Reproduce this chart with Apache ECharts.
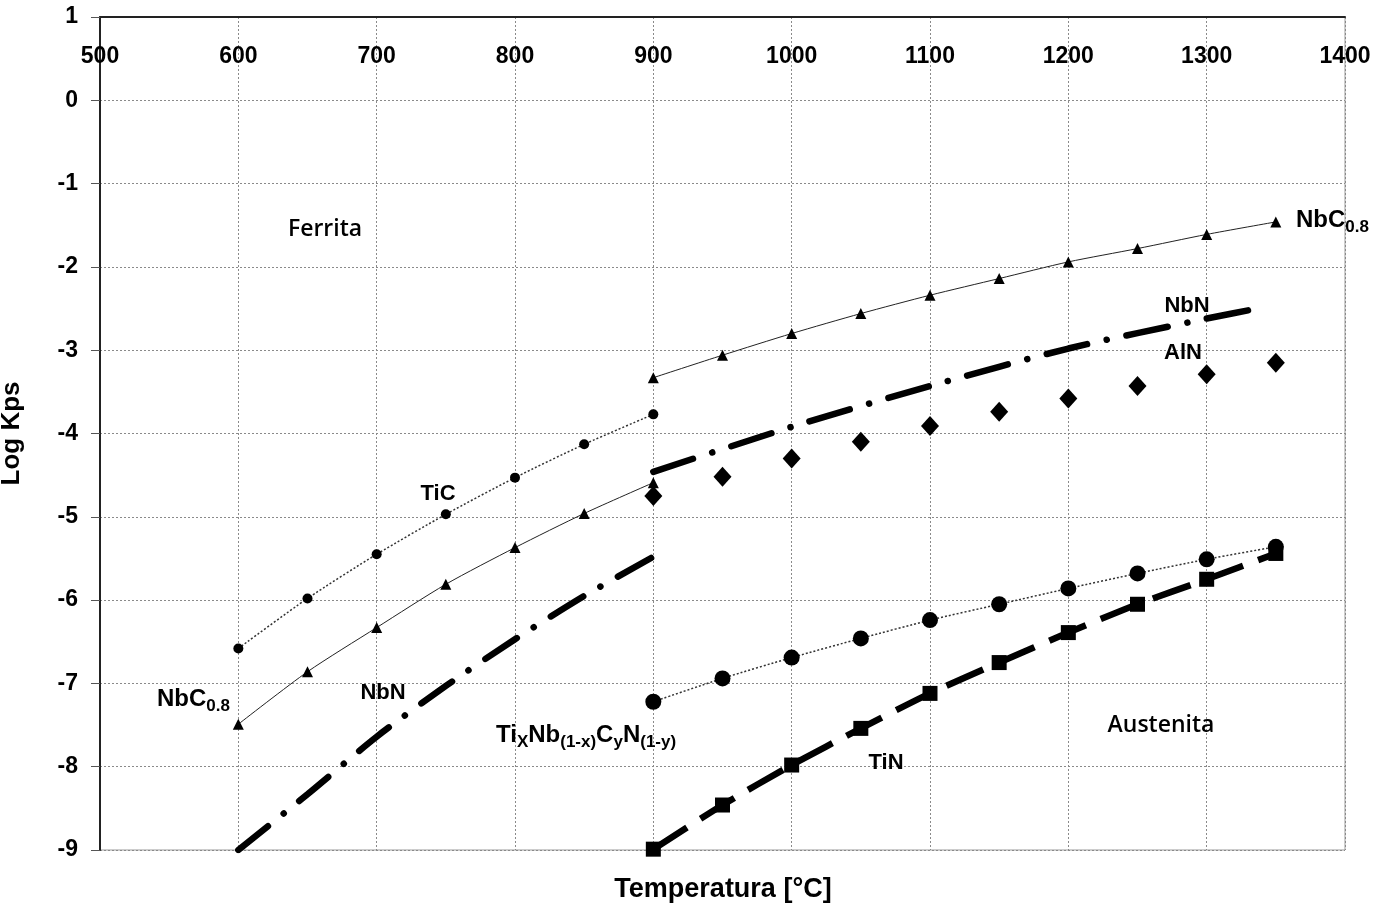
<!DOCTYPE html>
<html>
<head>
<meta charset="utf-8">
<script src="https://cdn.jsdelivr.net/npm/echarts@6/dist/echarts.min.js"></script>
<style>
html,body{margin:0;padding:0;background:#fff;}
#chart{width:1387px;height:910px;}
</style>
</head>
<body>
<div id="chart"></div>
<script>
// ---- data ----
const xTicks = [500, 600, 700, 800, 900, 1000, 1100, 1200, 1300, 1400];
const yTicks = [1, 0, -1, -2, -3, -4, -5, -6, -7, -8, -9];

const tempsFerrite = [600, 650, 700, 750, 800, 850, 900];
const tempsAustenite = [900, 950, 1000, 1050, 1100, 1150, 1200, 1250, 1300, 1350];
const tempsNbNAustenite = [900, 1000, 1100, 1200, 1300, 1340];

const ticFerrite = [-6.58, -5.98, -5.45, -4.97, -4.53, -4.13, -3.77];
const nbcFerrite = [-7.49, -6.86, -6.33, -5.81, -5.37, -4.96, -4.59];
const nbnFerrite = [-9.0, -8.33, -7.64, -7.03, -6.47, -5.95, -5.48];

const nbcAustenite = [-3.33, -3.06, -2.80, -2.56, -2.34, -2.14, -1.94, -1.78, -1.61, -1.46];
const nbnAustenite = [-4.46, -3.92, -3.43, -2.98, -2.62, -2.49];
const alnAustenite = [-4.75, -4.52, -4.30, -4.10, -3.91, -3.74, -3.58, -3.43, -3.29, -3.15];
const tinbcnAustenite = [-7.22, -6.94, -6.69, -6.46, -6.24, -6.05, -5.86, -5.68, -5.51, -5.36];
const tinAustenite = [-8.99, -8.46, -7.98, -7.54, -7.12, -6.75, -6.39, -6.05, -5.75, -5.44];

const zip = (xs, ys) => xs.map((x, i) => [x, ys[i]]);

const chart = echarts.init(document.getElementById('chart'), null, {renderer: 'canvas'});

const FONT = '"Liberation Sans", Arial, sans-serif';
const labelFont = {fontFamily: FONT, fontWeight: 'bold', fontSize: 22, fill: '#000'};
const sub = {fontFamily: FONT, fontWeight: 'bold', fontSize: 17, lineHeight: 10, padding: [15, 0, 0, 0], fill: '#000'};
const main = {fontFamily: FONT, fontWeight: 'bold', fontSize: 24, lineHeight: 25, fill: '#000'};

function txt(x, y, text, align, rich, extra) {
  const style = Object.assign({text: text, x: x, y: y, align: align || 'center', verticalAlign: 'middle'}, labelFont, extra || {});
  if (rich) style.rich = rich;
  return {type: 'text', silent: true, z: 100, style: style};
}
const richSub = {m: main, s: sub};

const option = {
  animation: false,
  backgroundColor: '#fff',
  grid: {left: 100, top: 17, right: 42, bottom: 60, outerBoundsMode: 'none', containLabel: false,
    show: true, borderColor: '#9a9a9a', borderWidth: 1, backgroundColor: 'transparent'},
  xAxis: {
    type: 'value', position: 'top', min: 500, max: 1400, interval: 100,
    axisLine: {show: true, onZero: false, lineStyle: {color: '#222', width: 2}},
    axisTick: {show: false},
    axisLabel: {inside: true, margin: 28, color: '#000', fontFamily: FONT, fontWeight: 'bold', fontSize: 23,
      formatter: v => xTicks.includes(v) ? String(v) : ''},
    splitLine: {show: true, lineStyle: {color: '#8a8a8a', type: [2, 2], width: 1}}
  },
  yAxis: {
    type: 'value', min: -9, max: 1, interval: 1,
    name: 'Log Kps', nameLocation: 'middle', nameGap: 75, nameRotate: 90,
    nameTextStyle: {color: '#000', fontFamily: FONT, fontWeight: 'bold', fontSize: 26},
    axisLine: {show: true, onZero: false, lineStyle: {color: '#222', width: 2}},
    axisTick: {show: true, length: 9, lineStyle: {color: '#555'}},
    axisLabel: {margin: 22, color: '#000', fontFamily: FONT, fontWeight: 'bold', fontSize: 23,
      formatter: v => yTicks.includes(v) ? String(v) : ''},
    splitLine: {show: true, lineStyle: {color: '#8a8a8a', type: [2, 2], width: 1}}
  },
  series: [
    {name: 'TiC', type: 'line', data: zip(tempsFerrite, ticFerrite), smooth: 0.25,
      symbol: 'circle', symbolSize: 10, itemStyle: {color: '#000', opacity: 1},
      lineStyle: {color: '#333', width: 1.5, type: [2, 2]}},
    {name: 'NbC0.8 F', type: 'line', data: zip(tempsFerrite, nbcFerrite), smooth: 0.25,
      symbol: 'triangle', symbolSize: 11, itemStyle: {color: '#000', opacity: 1},
      lineStyle: {color: '#222', width: 1}},
    {name: 'NbN F', type: 'line', data: zip(tempsFerrite, nbnFerrite), smooth: 0.25,
      symbol: 'none',
      lineStyle: {color: '#000', width: 6.5, type: [38, 20, 0.1, 20], cap: 'round'}},
    {name: 'NbC0.8 A', type: 'line', data: zip(tempsAustenite, nbcAustenite), smooth: 0.25,
      symbol: 'triangle', symbolSize: 11, itemStyle: {color: '#000', opacity: 1},
      lineStyle: {color: '#222', width: 1}},
    {name: 'NbN A', type: 'line', data: zip(tempsNbNAustenite, nbnAustenite), smooth: 0.25,
      symbol: 'none',
      lineStyle: {color: '#000', width: 6.5, type: [42, 20, 0.1, 20], cap: 'round'}},
    {name: 'AlN', type: 'scatter', data: zip(tempsAustenite, alnAustenite),
      symbol: 'diamond', symbolSize: [18, 20], itemStyle: {color: '#000', opacity: 1}},
    {name: 'TixNbCN', type: 'line', data: zip(tempsAustenite, tinbcnAustenite), smooth: 0.25,
      symbol: 'circle', symbolSize: 16, itemStyle: {color: '#000', opacity: 1},
      lineStyle: {color: '#333', width: 1.5, type: [2, 2]}},
    {name: 'TiN', type: 'line', data: zip(tempsAustenite, tinAustenite), smooth: 0.25,
      symbol: 'rect', symbolSize: 15, itemStyle: {color: '#000', opacity: 1},
      lineStyle: {color: '#000', width: 6.5, type: [40, 16], cap: 'butt'}}
  ],
  graphic: [
    txt(325, 229, 'Ferrita', 'center', null, {fontFamily: '"Open Sans", sans-serif', fontWeight: 600, fontSize: 23}),
    txt(1161, 725, 'Austenita', 'center', null, {fontFamily: '"Open Sans", sans-serif', fontWeight: 600, fontSize: 23}),
    txt(438, 494, 'TiC'),
    txt(383, 693, 'NbN'),
    txt(886, 763, 'TiN'),
    txt(1187, 306, 'NbN'),
    txt(1183, 353, 'AlN'),
    txt(157, 699, '{m|NbC}{s|0.8}', 'left', richSub),
    txt(1296, 220, '{m|NbC}{s|0.8}', 'left', richSub),
    txt(496, 735, '{m|Ti}{s|X}{m|Nb}{s|(1-x)}{m|C}{s|y}{m|N}{s|(1-y)}', 'left', richSub),
    txt(723, 890, 'Temperatura [°C]', 'center', null, {fontSize: 27})
  ]
};
chart.setOption(option);
</script>
</body>
</html>
